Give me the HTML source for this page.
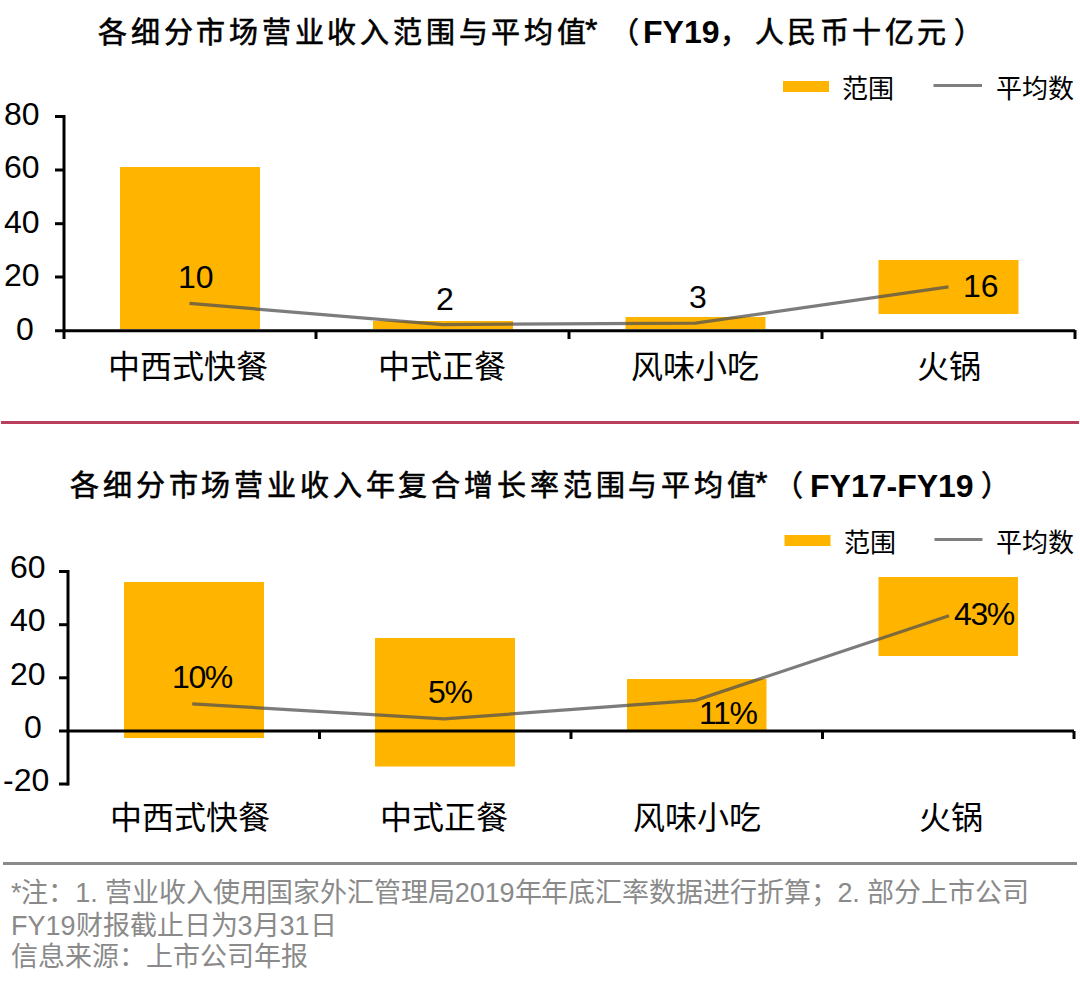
<!DOCTYPE html>
<html lang="zh-CN"><head><meta charset="utf-8">
<style>
html,body{margin:0;padding:0;background:#fff;}
body{width:1080px;height:987px;position:relative;overflow:hidden;font-family:"Liberation Sans",sans-serif;color:#000;}
.t{position:absolute;white-space:nowrap;line-height:1;}
svg{position:absolute;left:0;top:0;}
.title{font-size:32px;font-weight:500;-webkit-text-stroke:0.6px #000;}
.title b{-webkit-text-stroke:0;}
.leg{font-size:26px;}
.ax{font-size:32px;}
.cat{font-size:32px;}
.dl{font-size:32px;}
.pc{letter-spacing:-1.4px;}
.foot{font-size:27px;color:#8a8a8a;}
</style></head><body>
<svg width="1080" height="987" viewBox="0 0 1080 987">
  <!-- top chart -->
  <g fill="#FFB400">
    <rect x="120" y="167" width="140" height="162"/>
    <rect x="373" y="321" width="140" height="8"/>
    <rect x="625.5" y="317" width="140" height="12"/>
    <rect x="878.5" y="260" width="140" height="54"/>
    <rect x="783" y="81" width="46" height="11"/>
  </g>
  <polyline points="189.5,303.4 442.5,324.6 695.5,323.1 948.5,286.8" fill="none" stroke="#505050" stroke-opacity="0.75" stroke-width="3.2"/>
  <line x1="933.5" y1="85.5" x2="982" y2="85.5" stroke="#7f7f7f" stroke-width="3"/>
  <g stroke="#000" stroke-width="3" fill="none">
    <line x1="64" y1="115" x2="64" y2="339"/>
    <line x1="55" y1="116.5" x2="64" y2="116.5"/>
    <line x1="55" y1="170" x2="64" y2="170"/>
    <line x1="55" y1="223.7" x2="64" y2="223.7"/>
    <line x1="55" y1="277" x2="64" y2="277"/>
    <line x1="55" y1="330.7" x2="1075" y2="330.7"/>
    <line x1="316" y1="330" x2="316" y2="339"/>
    <line x1="569" y1="330" x2="569" y2="339"/>
    <line x1="822" y1="330" x2="822" y2="339"/>
    <line x1="1075" y1="330" x2="1075" y2="339"/>
  </g>
  <!-- divider -->
  <rect x="1" y="421" width="1078" height="3" fill="#BA3F5C"/>
  <!-- bottom chart -->
  <g fill="#FFB400">
    <rect x="124" y="582" width="140" height="156"/>
    <rect x="375" y="638" width="140" height="128.5"/>
    <rect x="627" y="679" width="139.5" height="53"/>
    <rect x="878.5" y="577" width="139.5" height="79"/>
    <rect x="784.5" y="535" width="46" height="11"/>
  </g>
  <polyline points="192.2,703.9 444.2,718.9 695.6,700.3 949,615.7" fill="none" stroke="#505050" stroke-opacity="0.75" stroke-width="3.2"/>
  <line x1="934.5" y1="539.5" x2="982.5" y2="539.5" stroke="#7f7f7f" stroke-width="3"/>
  <g stroke="#000" stroke-width="3" fill="none">
    <line x1="68" y1="570" x2="68" y2="785.5"/>
    <line x1="59" y1="571.5" x2="68" y2="571.5"/>
    <line x1="59" y1="624.7" x2="68" y2="624.7"/>
    <line x1="59" y1="677.8" x2="68" y2="677.8"/>
    <line x1="59" y1="731" x2="1074" y2="731"/>
    <line x1="59" y1="784" x2="68" y2="784"/>
    <line x1="319.5" y1="731" x2="319.5" y2="739"/>
    <line x1="571" y1="731" x2="571" y2="739"/>
    <line x1="822.5" y1="731" x2="822.5" y2="739"/>
    <line x1="1074" y1="731" x2="1074" y2="739"/>
  </g>
  <!-- footer line -->
  <rect x="3" y="862" width="1074" height="3" fill="#8a8a8a"/>
</svg>

<!-- top chart text -->
<div class="t title" style="left:98px;top:19px;letter-spacing:3.78px;font-size:29px">各细分市场营业收入范围与平均值</div>
<div class="t title" style="left:585px;top:14px">*</div>
<div class="t title" style="left:610px;top:19px;font-size:29px">（</div>
<div class="t title" style="left:643px;top:16px"><b>FY19</b></div>
<div class="t title" style="left:720px;top:19px;font-size:29px">，</div>
<div class="t title" style="left:755px;top:19px;font-size:29px;letter-spacing:3.4px">人民币十亿元</div>
<div class="t title" style="left:954px;top:19px;font-size:29px">）</div>
<div class="t leg" style="left:842px;top:76px">范围</div>
<div class="t leg" style="left:996px;top:76px">平均数</div>
<div class="t ax" style="left:4px;top:98px">80</div>
<div class="t ax" style="left:4px;top:151px">60</div>
<div class="t ax" style="left:4px;top:206px">40</div>
<div class="t ax" style="left:4px;top:259px">20</div>
<div class="t ax" style="left:16px;top:313px">0</div>
<div class="t dl" style="left:178px;top:261px">10</div>
<div class="t dl" style="left:436px;top:283px">2</div>
<div class="t dl" style="left:689px;top:281px">3</div>
<div class="t dl" style="left:963px;top:270px">16</div>
<div class="t cat" style="left:108px;top:351px">中西式快餐</div>
<div class="t cat" style="left:378px;top:351px">中式正餐</div>
<div class="t cat" style="left:631px;top:351px">风味小吃</div>
<div class="t cat" style="left:917px;top:351px">火锅</div>

<!-- bottom chart text -->
<div class="t title" style="left:70px;top:472px;letter-spacing:3.85px;font-size:29px">各细分市场营业收入年复合增长率范围与平均值</div>
<div class="t title" style="left:755px;top:467px">*</div>
<div class="t title" style="left:774px;top:472px;font-size:29px">（</div>
<div class="t title" style="left:810px;top:470px"><b>FY17-FY19</b></div>
<div class="t title" style="left:981px;top:472px;font-size:29px">）</div>
<div class="t leg" style="left:844px;top:530px">范围</div>
<div class="t leg" style="left:996px;top:530px">平均数</div>
<div class="t ax" style="left:10px;top:551px">60</div>
<div class="t ax" style="left:10px;top:604px">40</div>
<div class="t ax" style="left:10px;top:658px">20</div>
<div class="t ax" style="left:24px;top:711px">0</div>
<div class="t ax" style="left:3px;top:764px">-20</div>
<div class="t dl pc" style="left:172px;top:661px">10%</div>
<div class="t dl pc" style="left:428px;top:676px">5%</div>
<div class="t dl pc" style="left:699px;top:697px">11%</div>
<div class="t dl pc" style="left:954px;top:598px">43%</div>
<div class="t cat" style="left:110px;top:802px">中西式快餐</div>
<div class="t cat" style="left:380px;top:802px">中式正餐</div>
<div class="t cat" style="left:633px;top:802px">风味小吃</div>
<div class="t cat" style="left:919px;top:802px">火锅</div>

<!-- footer -->
<div class="t foot" style="left:11px;top:880px;letter-spacing:-0.09px">*注：1. 营业收入使用国家外汇管理局2019年年底汇率数据进行折算；2. 部分上市公司</div>
<div class="t foot" style="left:11px;top:913px">FY19财报截止日为3月31日</div>
<div class="t foot" style="left:11px;top:944px">信息来源：上市公司年报</div>
</body></html>
